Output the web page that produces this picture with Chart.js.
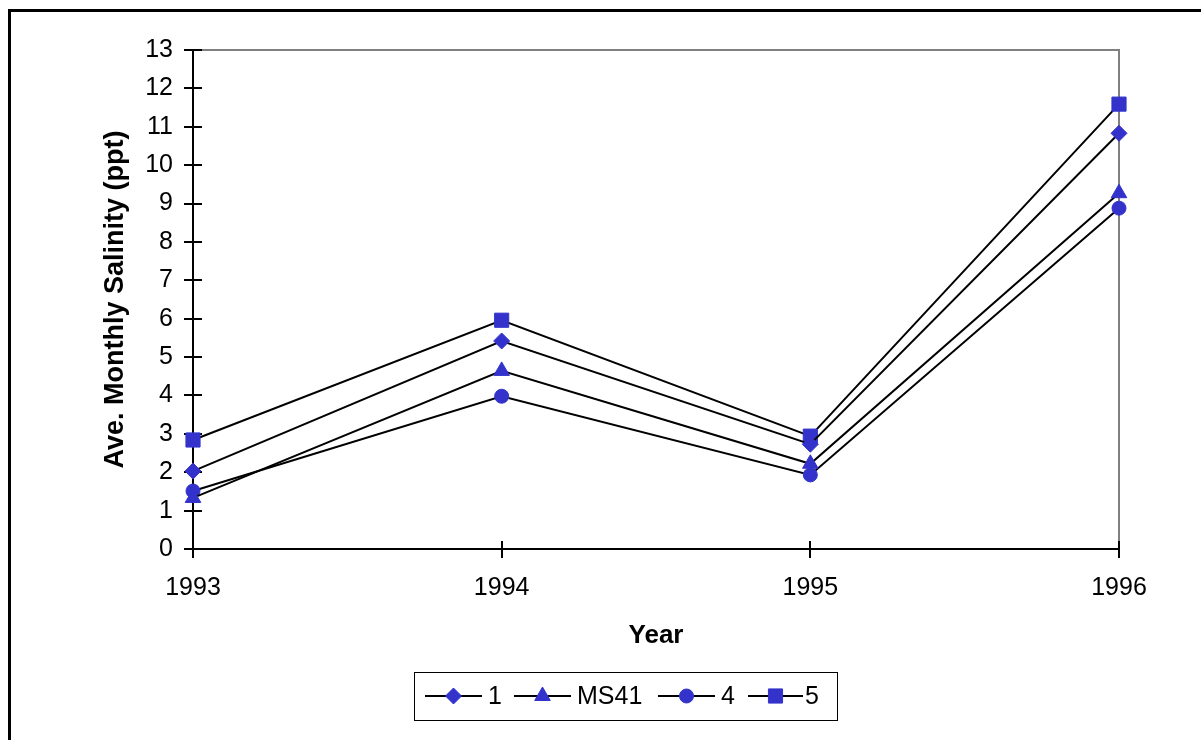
<!DOCTYPE html>
<html>
<head>
<meta charset="utf-8">
<script src="https://cdn.jsdelivr.net/npm/chart.js@4.4.1/dist/chart.umd.min.js"></script>
<style>
  html, body { margin: 0; padding: 0; background: #fff; overflow: hidden; }
  #wrap { position: relative; width: 1201px; height: 740px; }
</style>
</head>
<body>
<div id="wrap"><canvas id="c" width="1201" height="740"></canvas></div>
<script>
const years = ['1993', '1994', '1995', '1996'];
const site1 = [2.03, 5.42, 2.73, 10.83];
const siteMS41 = [1.33, 4.64, 2.22, 9.27];
const site4 = [1.51, 3.98, 1.93, 8.88];
const site5 = [2.84, 5.96, 2.94, 11.59];
const seriesNames = ['1', 'MS41', '4', '5'];
const yTicks = [0,1,2,3,4,5,6,7,8,9,10,11,12,13];

const MARK = '#3333CC';
const FONT = '"Liberation Sans", Arial, sans-serif';

function ds(label, data, style, r) {
  return {
    label, data,
    borderColor: '#000', borderWidth: 2,
    pointStyle: style, pointRadius: r, pointHoverRadius: r,
    pointBackgroundColor: MARK, pointBorderColor: MARK, pointBorderWidth: 1,
    tension: 0, fill: false
  };
}

const markerDefs = [['rectRot', 8], ['triangle', 9], ['circle', 7], ['rect', 10]];

const framePlugin = {
  id: 'frame',
  beforeDraw(chart) {
    const ctx = chart.ctx;
    ctx.save();
    ctx.fillStyle = '#fff';
    ctx.fillRect(0, 0, chart.width, chart.height);
    ctx.fillStyle = '#000';
    ctx.fillRect(8, 9, 1201 - 8, 3);
    ctx.fillRect(8, 9, 3, 740 - 9);
    ctx.restore();
  },
  beforeDatasetsDraw(chart) {
    const ctx = chart.ctx;
    const a = chart.chartArea;
    const xs = chart.scales.x, ys = chart.scales.y;
    ctx.save();
    ctx.strokeStyle = '#808080';
    ctx.lineWidth = 2;
    ctx.beginPath();
    ctx.moveTo(a.left, a.top); ctx.lineTo(a.right, a.top); ctx.lineTo(a.right, a.bottom);
    ctx.stroke();
    ctx.strokeStyle = '#000';
    ctx.beginPath();
    ctx.moveTo(a.left, a.top); ctx.lineTo(a.left, a.bottom); ctx.lineTo(a.right, a.bottom);
    ctx.stroke();
    yTicks.forEach(v => {
      const y = Math.round(ys.getPixelForValue(v));
      ctx.beginPath(); ctx.moveTo(a.left - 9, y); ctx.lineTo(a.left + 9, y); ctx.stroke();
    });
    years.forEach((yr, i) => {
      const x = Math.round(xs.getPixelForValue(i));
      ctx.beginPath(); ctx.moveTo(x, a.bottom - 8); ctx.lineTo(x, a.bottom + 9); ctx.stroke();
    });
    ctx.fillStyle = '#000';
    ctx.textAlign = 'center';
    ctx.textBaseline = 'middle';
    ctx.font = 'bold 26px ' + FONT;
    ctx.fillText('Year', (a.left + a.right) / 2, 636);
    ctx.save();
    ctx.font = 'bold 27px ' + FONT;
    ctx.translate(116, (a.top + a.bottom) / 2);
    ctx.rotate(-Math.PI / 2);
    ctx.fillText('Ave. Monthly Salinity (ppt)', 0, 0);
    ctx.restore();
    ctx.restore();
  },
  afterDraw(chart) {
    const ctx = chart.ctx;
    ctx.save();
    ctx.strokeStyle = '#000';
    ctx.lineWidth = 1;
    ctx.strokeRect(414.5, 672.5, 423, 48);
    const cy = 696;
    const items = [
      {x0: 425, x1: 482, tx: 488},
      {x0: 514, x1: 571, tx: 577},
      {x0: 658, x1: 715, tx: 721},
      {x0: 748, x1: 803, tx: 805}
    ];
    ctx.font = '25px ' + FONT;
    ctx.textBaseline = 'middle';
    ctx.textAlign = 'left';
    items.forEach((it, i) => {
      ctx.strokeStyle = '#000';
      ctx.lineWidth = 2;
      ctx.beginPath(); ctx.moveTo(it.x0, cy); ctx.lineTo(it.x1, cy); ctx.stroke();
      ctx.fillStyle = MARK; ctx.strokeStyle = MARK; ctx.lineWidth = 1;
      Chart.helpers.drawPoint(ctx, {pointStyle: markerDefs[i][0], radius: markerDefs[i][1], rotation: 0, borderWidth: 1}, (it.x0 + it.x1) / 2, cy);
      ctx.fillStyle = '#000';
      ctx.fillText(seriesNames[i], it.tx, cy + 1);
    });
    ctx.restore();
  }
};

new Chart(document.getElementById('c'), {
  type: 'line',
  data: {
    labels: years,
    datasets: [
      ds(seriesNames[0], site1, markerDefs[0][0], markerDefs[0][1]),
      ds(seriesNames[1], siteMS41, markerDefs[1][0], markerDefs[1][1]),
      ds(seriesNames[2], site4, markerDefs[2][0], markerDefs[2][1]),
      ds(seriesNames[3], site5, markerDefs[3][0], markerDefs[3][1])
    ]
  },
  options: {
    responsive: false,
    animation: false,
    devicePixelRatio: 1,
    layout: { padding: { top: 50, right: 82, left: 0, bottom: 0 } },
    plugins: { legend: { display: false }, tooltip: { enabled: false } },
    scales: {
      x: {
        type: 'category',
        offset: false,
        grid: { display: false, drawTicks: false },
        border: { display: false },
        ticks: { color: '#000', font: { family: FONT, size: 25 }, padding: 24, maxRotation: 0, autoSkip: false },
        afterFit(s) { s.height = 191; }
      },
      y: {
        min: 0, max: 13,
        grid: { display: false, drawTicks: false },
        border: { display: false },
        ticks: { stepSize: 1, color: '#000', font: { family: FONT, size: 25 }, padding: 20 },
        afterFit(s) { s.width = 193; }
      }
    }
  },
  plugins: [framePlugin]
});
</script>
</body>
</html>
